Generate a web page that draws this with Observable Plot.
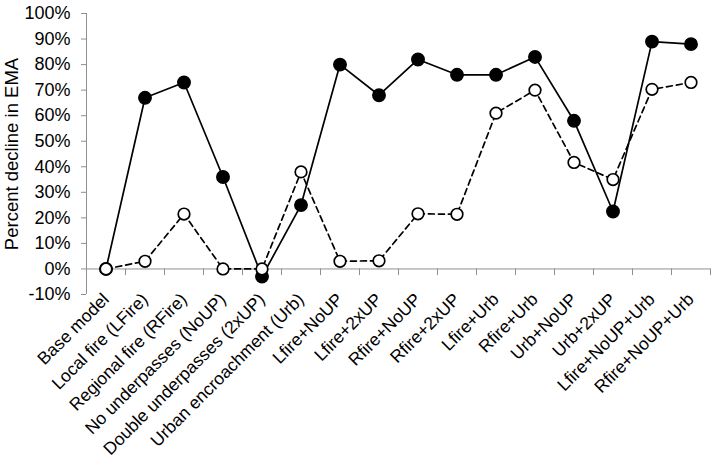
<!DOCTYPE html>
<html>
<head>
<meta charset="utf-8">
<script src="https://cdn.jsdelivr.net/npm/d3@7"></script>
<script src="https://cdn.jsdelivr.net/npm/@observablehq/plot@0.6"></script>
<style>
  html, body { margin: 0; padding: 0; background: #fff; }
  #chart { width: 714px; height: 460px; }
</style>
</head>
<body>
<div id="chart"></div>
<script>
const categories = [
  "Base model", "Local fire (LFire)", "Regional fire (RFire)", "No underpasses (NoUP)",
  "Double underpasses (2xUP)", "Urban encroachment (Urb)", "Lfire+NoUP", "Lfire+2xUP",
  "Rfire+NoUP", "Rfire+2xUP", "Lfire+Urb", "Rfire+Urb", "Urb+NoUP", "Urb+2xUP",
  "Lfire+NoUP+Urb", "Rfire+NoUP+Urb"
];
const solidSeries  = [0, 67, 73, 36, -3, 25, 80, 68, 82, 76, 76, 83, 58, 22.5, 89, 88];
const dashedSeries = [0, 3, 21.5, 0, 0, 38, 3, 3.2, 21.6, 21.4, 61, 70, 41.7, 35, 70.3, 73];
const yTicks = d3.range(-10, 101, 10);

const rows = (vals) => vals.map((v, i) => ({i: i + 0.5, cat: categories[i], v}));
const solidData = rows(solidSeries);
const dashedData = rows(dashedSeries);
const boundaries = d3.range(categories.length + 1);

const axisGray = "#8f8f8f";
const font = "'Liberation Sans', Arial, sans-serif";

const chart = Plot.plot({
  width: 714,
  height: 460,
  marginLeft: 86,
  marginRight: 4,
  marginTop: 13,
  marginBottom: 166,
  style: {fontFamily: font, fontSize: "18px", color: "#000", background: "#fff"},
  x: {domain: [0, categories.length], axis: null},
  y: {domain: [-10, 100], axis: null},
  marks: [
    Plot.ruleX([0], {y1: -10, y2: 100, stroke: axisGray, strokeWidth: 1}),
    Plot.ruleY([0], {stroke: axisGray, strokeWidth: 1}),
    Plot.ruleX(boundaries, {y1: 0, y2: -2.6, stroke: axisGray, strokeWidth: 1}),
    Plot.axisY({
      ticks: yTicks,
      tickFormat: d => d + "%",
      tickSize: 5,
      tickPadding: 11,
      stroke: axisGray,
      fill: "#000",
      fontSize: 18,
      label: null
    }),
    Plot.axisX({
      ticks: d3.range(categories.length).map(i => i + 0.5),
      tickFormat: t => categories[Math.floor(t)],
      tickRotate: -45,
      tickSize: 0,
      tickPadding: 2,
      fill: "#000",
      fontSize: 17.5,
      lineWidth: Infinity,
      textOverflow: null,
      label: null
    }),
    Plot.text(["Percent decline in EMA"], {
      frameAnchor: "left",
      textAnchor: "middle",
      rotate: -90,
      dx: -74,
      fontSize: 18.5,
      fill: "#000"
    }),
    Plot.line(solidData, {x: "i", y: "v", stroke: "#000", strokeWidth: 1.7}),
    Plot.dot(solidData, {x: "i", y: "v", r: 6.2, fill: "#000", stroke: "#000"}),
    Plot.line(dashedData, {x: "i", y: "v", stroke: "#000", strokeWidth: 1.7, strokeDasharray: "6,4"}),
    Plot.dot(dashedData, {x: "i", y: "v", r: 5.8, fill: "#fff", stroke: "#000", strokeWidth: 1.7})
  ]
});
document.getElementById("chart").appendChild(chart);
</script>
</body>
</html>
